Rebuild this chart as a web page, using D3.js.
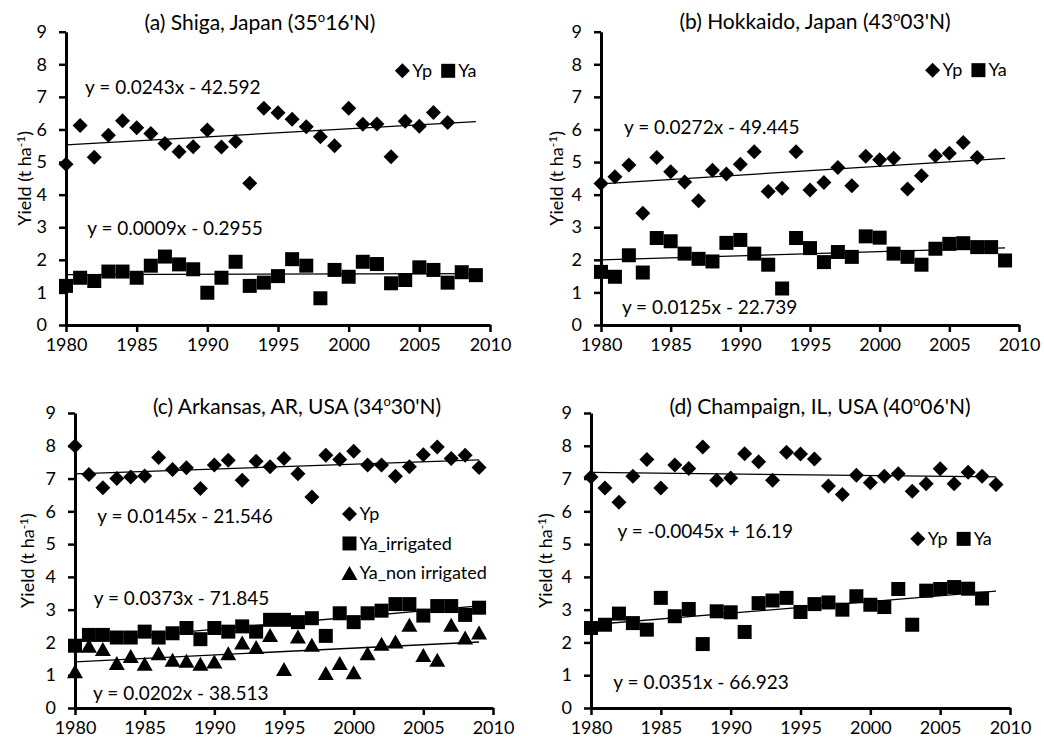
<!DOCTYPE html>
<html>
<head>
<meta charset="utf-8">
<title>Yield trends</title>
<script src="https://cdn.jsdelivr.net/npm/d3@7"></script>
<style>
body{margin:0;background:#fff;}
svg text{font-family:Lato,"Open Sans",sans-serif;fill:#000;}
</style>
</head>
<body>
<svg id="chart" width="1044" height="744"></svg>
<script>
// years on the x axis
var years = [1980,1981,1982,1983,1984,1985,1986,1987,1988,1989,1990,1991,1992,1993,1994,
             1995,1996,1997,1998,1999,2000,2001,2002,2003,2004,2005,2006,2007,2008,2009];
var xTicks = [1980,1985,1990,1995,2000,2005,2010];
var yTicks = [0,1,2,3,4,5,6,7,8,9];

// (a) Shiga - Yp stops in 2007
var shigaYp = [4.93,6.12,5.15,5.82,6.27,6.05,5.88,5.57,5.32,5.47,5.98,5.46,5.63,4.35,6.65,
               6.51,6.31,6.08,5.78,5.50,6.65,6.16,6.17,5.16,6.25,6.10,6.52,6.21];
var shigaYa = [1.20,1.45,1.35,1.64,1.64,1.45,1.82,2.10,1.86,1.71,0.99,1.45,1.94,1.20,1.30,
               1.50,2.02,1.82,0.82,1.69,1.48,1.94,1.87,1.28,1.38,1.77,1.69,1.30,1.62,1.53];
// (b) Hokkaido
var hokkaidoYp = [4.34,4.55,4.91,3.43,5.14,4.70,4.39,3.81,4.75,4.63,4.93,5.32,4.10,4.20,5.32,
                  4.14,4.37,4.83,4.27,5.18,5.07,5.12,4.17,4.58,5.19,5.27,5.60,5.14];
var hokkaidoYa = [1.63,1.48,2.14,1.61,2.67,2.57,2.19,2.03,1.95,2.52,2.61,2.19,1.85,1.12,2.67,
                  2.36,1.93,2.24,2.09,2.72,2.68,2.19,2.09,1.85,2.34,2.49,2.51,2.39,2.39,1.98];
// (c) Arkansas
var arkansasYp = [7.99,7.12,6.72,7.00,7.05,7.08,7.64,7.28,7.33,6.70,7.41,7.56,6.95,7.53,7.36,
                  7.61,7.15,6.44,7.71,7.58,7.83,7.41,7.41,7.07,7.36,7.73,7.96,7.61,7.71,7.34];
var arkansasYaIrr = [1.90,2.23,2.23,2.15,2.15,2.33,2.15,2.28,2.44,2.10,2.44,2.33,2.49,2.33,2.69,
                     2.69,2.62,2.74,2.20,2.89,2.62,2.89,2.97,3.17,3.17,2.82,3.11,3.11,2.84,3.06];
var arkansasYaNon = [1.12,1.90,1.80,1.37,1.59,1.35,1.67,1.47,1.44,1.35,1.42,1.67,2.00,1.86,2.23,
                     1.19,2.18,1.93,1.07,1.37,1.09,1.67,1.96,2.03,2.54,1.62,1.47,2.54,2.15,2.30];
// (d) Champaign - Ya stops in 2008
var champaignYp = [7.05,6.71,6.28,7.07,7.58,6.71,7.41,7.31,7.96,6.95,7.02,7.76,7.51,6.95,7.80,
                   7.75,7.60,6.77,6.51,7.10,6.87,7.07,7.15,6.61,6.84,7.30,6.84,7.19,7.07,6.82];
var champaignYa = [2.44,2.54,2.88,2.59,2.39,3.36,2.80,3.02,1.95,2.95,2.92,2.32,3.20,3.28,3.36,
                   2.93,3.17,3.22,3.00,3.41,3.15,3.08,3.63,2.54,3.58,3.63,3.69,3.64,3.34];

var titles = [["(a) Shiga, Japan (35","o","16'N)"],
              ["(b) Hokkaido, Japan (43","o","03'N)"],
              ["(c) Arkansas, AR, USA (34","o","30'N)"],
              ["(d) Champaign, IL, USA (40","o","06'N)"]];
var equations = [["y = 0.0243x - 42.592","y = 0.0009x - 0.2955"],
                 ["y = 0.0272x - 49.445","y = 0.0125x - 22.739"],
                 ["y = 0.0145x - 21.546","y = 0.0373x - 71.845","y = 0.0202x - 38.513"],
                 ["y = -0.0045x + 16.19","y = 0.0351x - 66.923"]];

// layout of the four plot areas (pixels) and where the texts sit (data units)
var panels = [
  {left:66, right:490, top:31.7, bottom:325, titleX:260, titleY:23, ylabX:25,
   series:[{name:"Yp",values:shigaYp,shape:"diamond"},{name:"Ya",values:shigaYa,shape:"square"}],
   eqAt:[[1981.35,7.3],[1981.5,2.98]], legend:{at:[2003.8,7.8],row:true}},
  {left:601, right:1019, top:31.7, bottom:325, titleX:815, titleY:22, ylabX:557,
   series:[{name:"Yp",values:hokkaidoYp,shape:"diamond"},{name:"Ya",values:hokkaidoYa,shape:"square"}],
   eqAt:[[1981.65,6.07],[1981.5,0.55]], legend:{at:[2003.8,7.82],row:true}},
  {left:75, right:493, top:413, bottom:708, titleX:297, titleY:407, ylabX:28,
   series:[{name:"Yp",values:arkansasYp,shape:"diamond"},{name:"Ya_irrigated",values:arkansasYaIrr,shape:"square"},
           {name:"Ya_non irrigated",values:arkansasYaNon,shape:"triangle"}],
   eqAt:[[1981.6,5.86],[1981.35,3.36],[1981.3,0.46]], legend:{at:[1999.7,5.92],row:false}},
  {left:591, right:1010, top:413, bottom:708, titleX:820, titleY:407, ylabX:546,
   series:[{name:"Yp",values:champaignYp,shape:"diamond"},{name:"Ya",values:champaignYa,shape:"square"}],
   eqAt:[[1981.9,5.4],[1981.6,0.79]], legend:{at:[2003.4,5.16],row:true}}
];

var shapes = {
  diamond:"M0,-7.5L7.5,0L0,7.5L-7.5,0Z",
  square:"M-7,-7H7V7H-7Z",
  triangle:"M0,-7L8,7L-8,7Z"
};

// ordinary least squares, like the spreadsheet trendline
function fit(xs, ys){
  var n = ys.length, sx = 0, sy = 0, sxx = 0, sxy = 0;
  for(var i=0;i<n;i++){ sx+=xs[i]; sy+=ys[i]; sxx+=xs[i]*xs[i]; sxy+=xs[i]*ys[i]; }
  var b = (n*sxy - sx*sy)/(n*sxx - sx*sx);
  return {b:b, a:(sy - b*sx)/n};
}

var svg = d3.select("#chart");
svg.append("rect").attr("width",1044).attr("height",744).attr("fill","#fff");

panels.forEach(function(p, k){
  var g = svg.append("g");
  var x = d3.scaleLinear().domain([1980,2010]).range([p.left,p.right]);
  var y = d3.scaleLinear().domain([0,9]).range([p.bottom,p.top]);

  // trendlines under the markers
  p.series.forEach(function(s){
    var xs = years.slice(0, s.values.length);
    var f = fit(xs, s.values);
    g.append("line")
      .attr("x1",x(1980)).attr("y1",y(f.a+f.b*1980))
      .attr("x2",x(2009)).attr("y2",y(f.a+f.b*2009))
      .attr("stroke","#000").attr("stroke-width",1.3);
  });

  p.series.forEach(function(s){
    g.append("g").selectAll("path").data(s.values).enter().append("path")
      .attr("d",shapes[s.shape])
      .attr("fill","#000")
      .attr("transform",function(d,i){ return "translate("+x(years[i])+","+y(d)+")"; });
  });

  var xa = g.append("g").attr("transform","translate(0,"+p.bottom+")")
    .call(d3.axisBottom(x).tickValues(xTicks).tickFormat(d3.format("d")).tickSize(7).tickSizeOuter(0).tickPadding(6));
  var ya = g.append("g").attr("transform","translate("+p.left+",0)")
    .call(d3.axisLeft(y).tickValues(yTicks).tickSize(7).tickSizeOuter(0).tickPadding(12));
  [xa,ya].forEach(function(a){
    a.select(".domain").attr("stroke","#000").attr("stroke-width",3);
    a.selectAll(".tick line").attr("stroke","#000").attr("stroke-width",2.5);
    a.selectAll(".tick text").style("font-family","Lato, 'Open Sans', sans-serif").style("font-size","18px").attr("fill","#000");
  });

  // title with superscript degree mark
  var t = g.append("text").attr("x",p.titleX).attr("y",p.titleY+7).attr("text-anchor","middle").style("font-size","21px");
  t.append("tspan").text(titles[k][0]);
  t.append("tspan").attr("dy",-8).style("font-size","13px").text(titles[k][1]);
  t.append("tspan").attr("dy",8).text(titles[k][2]);

  // y axis title
  var yl = g.append("text").attr("transform","translate("+p.ylabX+","+((p.top+p.bottom)/2)+") rotate(-90)")
    .attr("text-anchor","middle").attr("dy","0.35em").style("font-size","18px");
  yl.append("tspan").text("Yield (t ha");
  yl.append("tspan").attr("dy",-6).style("font-size","12px").text("-1");
  yl.append("tspan").attr("dy",6).text(")");

  equations[k].forEach(function(e, j){
    g.append("text").attr("x",x(p.eqAt[j][0])).attr("y",y(p.eqAt[j][1])).attr("dy","0.35em")
      .style("font-size","19px").text(e);
  });

  // legend
  var lg = g.append("g").attr("transform","translate("+x(p.legend.at[0])+","+y(p.legend.at[1])+")");
  var cx = 0;
  p.series.forEach(function(s, j){
    var it = lg.append("g").attr("transform", p.legend.row ? "translate("+cx+",0)" : "translate(0,"+(j*29.5)+")");
    it.append("path").attr("d",shapes[s.shape]).attr("fill","#000");
    var tx = it.append("text").attr("x",10).attr("dy","0.35em").style("font-size","18px").text(s.name);
    cx += 10 + tx.node().getComputedTextLength() + 16;
  });
});
</script>
</body>
</html>
